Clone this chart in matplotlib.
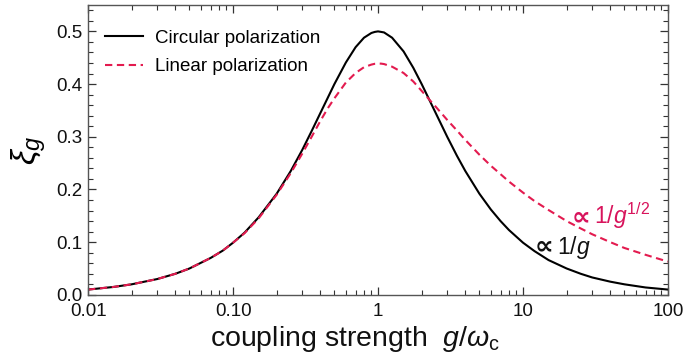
import numpy as np
import matplotlib
matplotlib.use("Agg")
import matplotlib.pyplot as plt
from matplotlib.ticker import FixedLocator, NullFormatter, MultipleLocator

# ── data ─────────────────────────────────────────────────────────────────────
g_vals = [0.01, 0.015, 0.02, 0.03, 0.04, 0.05, 0.07, 0.085, 0.1, 0.12, 0.15,
          0.2, 0.25, 0.3, 0.35, 0.4, 0.45, 0.5, 0.6, 0.7, 0.8, 0.9, 0.95,
          1.0, 1.05, 1.1, 1.25, 1.5, 1.75, 2.0, 2.25, 2.5, 3.0, 3.5, 4.0,
          5.0, 6.0, 7.0, 8.0, 10.0, 12.0, 15.0, 20.0, 25.0, 30.0, 40.0,
          50.0, 70.0, 100.0]

circular = [0.010, 0.015, 0.020, 0.030, 0.040, 0.050, 0.070, 0.084, 0.099,
            0.118, 0.147, 0.192, 0.235, 0.275, 0.312, 0.345, 0.374, 0.400,
            0.441, 0.470, 0.488, 0.497, 0.499, 0.500, 0.499, 0.498, 0.488,
            0.462, 0.431, 0.400, 0.371, 0.345, 0.300, 0.264, 0.235, 0.192,
            0.162, 0.140, 0.123, 0.099, 0.083, 0.066, 0.050, 0.040, 0.033,
            0.025, 0.020, 0.014, 0.010]

linear = [0.010, 0.015, 0.020, 0.030, 0.040, 0.050, 0.070, 0.084, 0.099,
          0.117, 0.145, 0.190, 0.231, 0.268, 0.301, 0.330, 0.354, 0.373,
          0.403, 0.421, 0.432, 0.437, 0.4385, 0.439, 0.4388, 0.438, 0.433,
          0.421, 0.405, 0.387, 0.371, 0.357, 0.332, 0.312, 0.294, 0.266,
          0.245, 0.229, 0.215, 0.194, 0.178, 0.161, 0.140, 0.126, 0.115,
          0.100, 0.089, 0.076, 0.063]

x_ticks = [0.01, 0.1, 1, 10, 100]
x_tick_labels = ["0.01", "0.10", "1", "10", "100"]
y_ticks = [0.0, 0.1, 0.2, 0.3, 0.4, 0.5]

RED = "#e31b4f"
RED_TXT = "#d8145c"

plt.rcParams["font.family"] = ["Liberation Sans", "DejaVu Sans"]
plt.rcParams["mathtext.fontset"] = "custom"
plt.rcParams["mathtext.rm"] = "Liberation Sans"
plt.rcParams["mathtext.it"] = "Liberation Sans:italic"

fig = plt.figure(figsize=(6.83, 3.6), dpi=100)
ax = fig.add_axes([0.129, 0.181, 0.849, 0.805])

ax.plot(g_vals, circular, color="black", lw=1.5, label="Circular polarization")
ax.plot(g_vals, linear, color=RED, lw=1.5, ls=(0, (3.5, 2.2)),
        label="Linear polarization")

ax.set_xscale("log")
ax.set_xlim(0.01, 100)
ax.set_ylim(0, 0.55)

ax.xaxis.set_major_locator(FixedLocator(x_ticks))
ax.set_xticklabels(x_tick_labels)
ax.xaxis.set_minor_locator(FixedLocator(
    [m * d for d in [0.01, 0.1, 1, 10] for m in range(2, 10)]))
ax.xaxis.set_minor_formatter(NullFormatter())
ax.set_yticks(y_ticks)
ax.set_yticklabels([f"{v:.1f}" for v in y_ticks])
ax.yaxis.set_minor_locator(MultipleLocator(0.02))

ax.tick_params(which="both", direction="in", top=True, right=True,
               color="#333333", labelsize=13.5, labelcolor="#111111")
ax.tick_params(which="major", length=6, width=0.9)
ax.tick_params(which="minor", length=3.5, width=0.8)
ax.tick_params(axis="x", pad=6)
ax.tick_params(axis="y", pad=4)
for sp in ax.spines.values():
    sp.set_color("#555555")
    sp.set_linewidth(1.0)

ax.set_xlabel(r"coupling strength  $g/\omega_{\rm c}$", fontsize=20.5,
              color="#111111")
ax.xaxis.set_label_coords(0.46, -0.1)
ax.set_ylabel(r"$\xi_g$", fontsize=24, labelpad=6)

ax.legend(loc="upper left", frameon=False, fontsize=13.5, handlelength=2.05,
          handletextpad=0.6, labelspacing=0.6, borderaxespad=0.0,
          bbox_to_anchor=(0.016, 0.94))

# asymptote annotations: the ∝ sign set on its own, larger and heavier
ax.text(12.1, 0.078, "∝", fontsize=19, family="DejaVu Sans", weight="bold",
        color="#111111", ha="left", va="baseline")
ax.text(17.2, 0.078, r"$1/g$", fontsize=16.5, color="#111111",
        ha="left", va="baseline")
ax.text(21.8, 0.134, "∝", fontsize=19, family="DejaVu Sans", weight="bold",
        color=RED_TXT, ha="left", va="baseline")
ax.text(31.0, 0.134, r"$1/g^{1/2}$", fontsize=16.5, color=RED_TXT,
        ha="left", va="baseline")

fig.savefig("out.png", dpi=100)
